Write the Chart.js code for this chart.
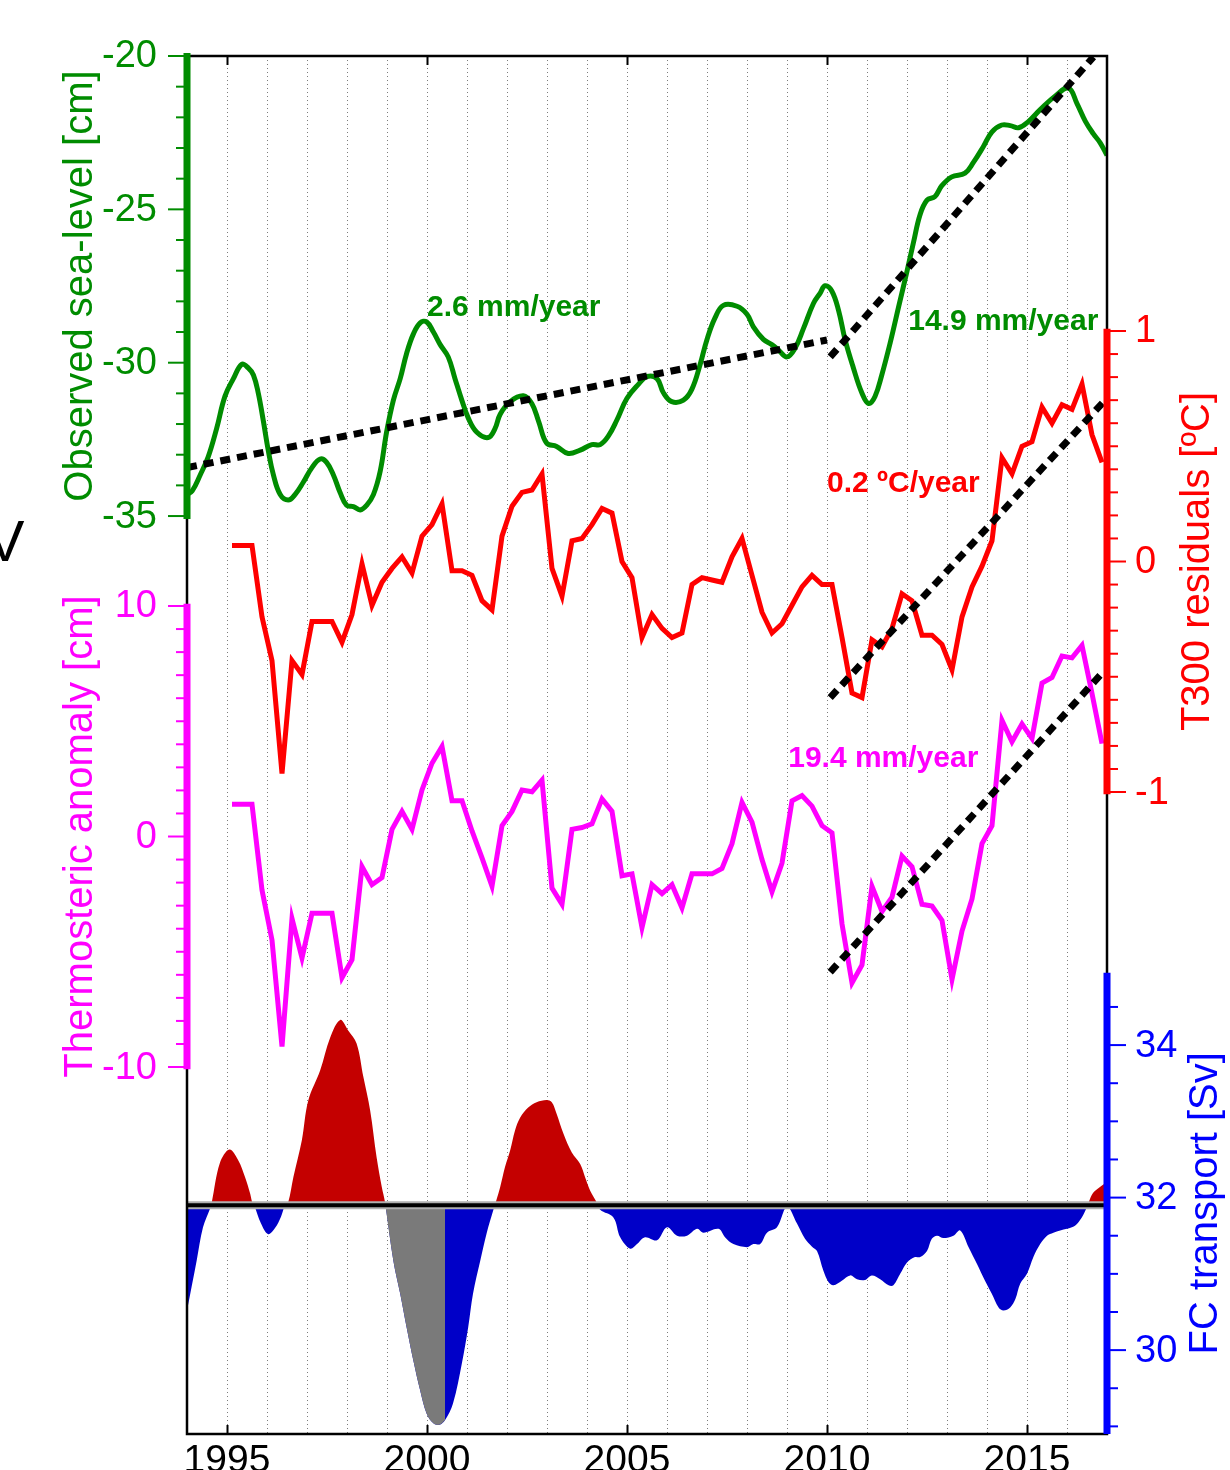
<!DOCTYPE html>
<html>
<head>
<meta charset="utf-8">
<title>Sea level, T300 and FC transport</title>
<script src="https://cdn.jsdelivr.net/npm/chart.js@4.4.1/dist/chart.umd.min.js"></script>
<style>
  html, body { margin: 0; padding: 0; overflow: hidden; background: #fff; }
  canvas { display: block; }
</style>
</head>
<body>
<canvas id="myChart" width="1230" height="1470"></canvas>
<script>
// observed sea level (smoothed, cm)
const seaYears = [1994.00, 1994.13, 1994.33, 1994.53, 1994.74, 1994.95, 1995.16, 1995.37, 1995.53, 1995.66,
  1995.78, 1995.91, 1996.03, 1996.16, 1996.33, 1996.53, 1996.70, 1996.91, 1997.12, 1997.33,
  1997.49, 1997.66, 1997.83, 1997.99, 1998.16, 1998.33, 1998.49, 1998.66, 1998.83, 1998.99,
  1999.16, 1999.33, 1999.49, 1999.66, 1999.83, 1999.99, 2000.16, 2000.33, 2000.53, 2000.70,
  2000.87, 2001.03, 2001.24, 2001.53, 2001.70, 2001.83, 2002.08, 2002.41, 2002.62, 2002.79,
  2002.99, 2003.24, 2003.53, 2003.83, 2004.12, 2004.33, 2004.54, 2004.75, 2005.00, 2005.29,
  2005.50, 2005.75, 2005.91, 2006.12, 2006.41, 2006.62, 2006.83, 2007.00, 2007.20, 2007.41,
  2007.75, 2008.00, 2008.16, 2008.41, 2008.62, 2008.79, 2009.00, 2009.20, 2009.41, 2009.66,
  2009.83, 2009.95, 2010.12, 2010.29, 2010.45, 2010.66, 2010.87, 2011.04, 2011.20, 2011.37,
  2011.58, 2011.79, 2012.00, 2012.16, 2012.33, 2012.50, 2012.70, 2012.87, 2013.12, 2013.45,
  2013.66, 2013.91, 2014.12, 2014.37, 2014.58, 2014.79, 2015.04, 2015.33, 2015.71, 2016.04,
  2016.25, 2016.46, 2016.66, 2016.83, 2017.00];
const seaLevel = [-34.30, -34.18, -33.66, -33.07, -32.15, -31.09, -30.52, -30.05, -30.17, -30.40,
  -30.98, -31.91, -32.85, -33.66, -34.30, -34.48, -34.30, -33.89, -33.43, -33.14,
  -33.25, -33.66, -34.24, -34.65, -34.69, -34.80, -34.65, -34.30, -33.54, -32.26,
  -31.22, -30.52, -29.70, -29.06, -28.70, -28.67, -29.00, -29.41, -29.81, -30.52,
  -31.22, -31.80, -32.26, -32.44, -32.15, -31.68, -31.27, -31.08, -31.33, -31.91,
  -32.62, -32.73, -32.96, -32.85, -32.67, -32.67, -32.38, -31.86, -31.16, -30.70,
  -30.45, -30.52, -30.98, -31.27, -31.22, -30.87, -30.05, -29.24, -28.54, -28.13,
  -28.16, -28.42, -28.83, -29.24, -29.41, -29.59, -29.81, -29.53, -28.89, -28.07,
  -27.73, -27.49, -27.66, -28.30, -29.24, -30.17, -30.98, -31.33, -31.10, -30.40,
  -29.35, -28.18, -27.02, -26.09, -25.16, -24.70, -24.58, -24.23, -23.94, -23.82,
  -23.47, -22.95, -22.48, -22.25, -22.27, -22.34, -22.13, -21.75, -21.30, -21.05,
  -21.55, -22.13, -22.54, -22.83, -23.24];

// quarterly series, mid-quarter time stamps 1995.125 ... 2016.875
const quarterYears = [];
for (let y = 1995; y <= 2016; y++) {
  quarterYears.push(y + 0.125, y + 0.375, y + 0.625, y + 0.875);
}
const t300Residuals = [
  0.07, 0.07, 0.07, -0.24,   -0.43, -0.92, -0.43, -0.49,   -0.26, -0.26, -0.26, -0.35,
  -0.23, -0.01, -0.19, -0.09,   -0.03, 0.02, -0.05, 0.11,   0.16, 0.25, -0.04, -0.04,
  -0.06, -0.17, -0.21, 0.11,   0.24, 0.30, 0.31, 0.38,   -0.03, -0.15, 0.09, 0.10,
  0.16, 0.23, 0.21, 0.00,   -0.07, -0.33, -0.23, -0.29,   -0.33, -0.31, -0.10, -0.07,
  -0.08, -0.09, 0.02, 0.10,   -0.06, -0.22, -0.31, -0.27,   -0.19, -0.11, -0.06, -0.10,
  -0.10, -0.33, -0.57, -0.59,   -0.34, -0.37, -0.29, -0.14,   -0.17, -0.32, -0.32, -0.36,
  -0.47, -0.24, -0.11, -0.02,   0.09, 0.45, 0.38, 0.50,   0.52, 0.67, 0.60, 0.68,
  0.66, 0.77, 0.55, 0.43];
const thermosteric = [
  1.40, 1.40, 1.40, -2.32,   -4.49, -9.11, -3.56, -5.27,   -3.33, -3.33, -3.33, -6.12,
  -5.34, -1.31, -2.09, -1.78,   0.31, 1.09, 0.31, 2.02,   3.18, 3.91, 1.55, 1.55,
  0.24, -0.93, -2.16, 0.47,   1.09, 2.02, 1.94, 2.45,   -2.24, -2.94, 0.31, 0.39,
  0.55, 1.63, 1.09, -1.70,   -1.62, -3.95, -2.09, -2.48,   -2.09, -3.10, -1.62, -1.62,
  -1.62, -1.39, -0.31, 1.48,   0.62, -1.00, -2.40, -1.16,   1.55, 1.78, 1.32, 0.47,
  0.16, -3.79, -6.35, -5.57,   -2.16, -3.25, -2.63, -0.85,   -1.31, -2.94, -3.02, -3.64,
  -6.20, -4.10, -2.71, -0.31,   0.47, 5.04, 4.11, 4.88,   4.26, 6.66, 6.90, 7.83,
  7.75, 8.29, 6.20, 4.03];

// Florida Current transport (Sv), shaded against its mean
const fcMean = 31.9;
const fcYears = [1994.00, 1994.24, 1994.40, 1994.58, 1994.62, 1994.82, 1995.06, 1995.28, 1995.45, 1995.58,
  1995.63, 1995.68, 1995.85, 1996.03, 1996.20, 1996.35, 1996.45, 1996.53, 1996.66, 1996.87,
  1997.03, 1997.33, 1997.58, 1997.83, 1998.03, 1998.24, 1998.41, 1998.58, 1998.74, 1998.87,
  1998.95, 1999.16, 1999.33, 1999.49, 1999.66, 1999.83, 1999.99, 2000.16, 2000.31, 2000.45,
  2000.65, 2000.87, 2001.03, 2001.15, 2001.33, 2001.49, 2001.66, 2001.73, 2001.83, 2001.95,
  2002.08, 2002.20, 2002.33, 2002.53, 2002.74, 2002.99, 2003.12, 2003.24, 2003.41, 2003.62,
  2003.83, 2003.95, 2004.08, 2004.22, 2004.33, 2004.66, 2004.83, 2005.08, 2005.25, 2005.45,
  2005.75, 2006.00, 2006.25, 2006.50, 2006.75, 2006.91, 2007.29, 2007.45, 2007.66, 2008.00,
  2008.16, 2008.33, 2008.50, 2008.75, 2009.00, 2009.25, 2009.45, 2009.62, 2009.75, 2009.91,
  2010.04, 2010.16, 2010.37, 2010.58, 2010.75, 2010.95, 2011.12, 2011.33, 2011.54, 2011.66,
  2011.83, 2012.00, 2012.20, 2012.33, 2012.50, 2012.62, 2012.75, 2012.91, 2013.16, 2013.33,
  2013.54, 2013.75, 2013.95, 2014.12, 2014.29, 2014.41, 2014.58, 2014.71, 2014.83, 2015.00,
  2015.16, 2015.33, 2015.50, 2015.66, 2015.83, 2016.00, 2016.20, 2016.37, 2016.46, 2016.55,
  2016.65, 2016.80, 2017.00];
const fcTransport = [30.52, 31.17, 31.61, 31.86, 31.94, 32.45, 32.63, 32.49, 32.27, 32.05,
  31.94, 31.90, 31.66, 31.52, 31.60, 31.75, 31.90, 31.94, 32.27, 32.75,
  33.27, 33.67, 34.10, 34.33, 34.19, 34.02, 33.58, 33.14, 32.53, 32.14,
  31.94, 31.17, 30.74, 30.30, 29.86, 29.47, 29.17, 29.04, 29.02, 29.08,
  29.30, 29.82, 30.30, 30.74, 31.17, 31.53, 31.84, 31.96, 32.14, 32.40,
  32.62, 32.88, 33.05, 33.18, 33.25, 33.28, 33.25, 33.10, 32.84, 32.59,
  32.44, 32.27, 32.09, 31.96, 31.84, 31.74, 31.48, 31.33, 31.39, 31.48,
  31.44, 31.61, 31.50, 31.50, 31.59, 31.54, 31.59, 31.48, 31.39, 31.35,
  31.39, 31.39, 31.54, 31.61, 31.88, 31.66, 31.46, 31.36, 31.30, 31.04,
  30.89, 30.85, 30.91, 30.98, 30.93, 30.92, 30.98, 30.93, 30.85, 30.85,
  31.00, 31.15, 31.22, 31.22, 31.30, 31.46, 31.50, 31.47, 31.50, 31.57,
  31.35, 31.13, 30.91, 30.74, 30.56, 30.52, 30.56, 30.67, 30.87, 31.00,
  31.22, 31.39, 31.50, 31.54, 31.57, 31.59, 31.63, 31.74, 31.83, 31.95,
  32.06, 32.13, 32.20];
// stretch shown in grey (gap in the cable record)
const fcGapYears = [1998.95, 1999.16, 1999.33, 1999.49, 1999.66, 1999.83, 1999.99, 2000.16, 2000.31, 2000.45];
const fcGapTransport = [31.94, 31.17, 30.74, 30.30, 29.86, 29.47, 29.17, 29.04, 29.02, 29.08];

// linear trends
const seaTrendSlowYears = [1994.0, 2010.0];
const seaTrendSlow = [-33.42, -29.26];
const seaTrendFastYears = [2010.08, 2016.66];
const seaTrendFast = [-29.81, -20.03];
const t300TrendYears = [2010.08, 2016.9];
const t300Trend = [-0.59, 0.69];
const thermoTrendYears = [2010.08, 2016.83];
const thermoTrend = [-5.88, 7.0];

const yearLabels = [1995, 2000, 2005, 2010, 2015];

const FONT = "'Liberation Sans', Arial, Helvetica, sans-serif";
const GREEN = "rgb(0, 140, 0)";
const RED = "rgb(255, 0, 0)";
const MAGENTA = "rgb(255, 0, 255)";
const BLUE = "rgb(0, 0, 255)";

const toPoints = (xs, ys) => xs.map((x, i) => ({ x, y: ys[i] }));

const axisSpecs = [
  { id: "ySea", side: "left", color: GREEN, barFrom: -35.1, barTo: -19.9, first: -35, last: -20, minor: 1, major: 5,
    title: "Observed sea-level [cm]", titleX: 92 },
  { id: "yThermo", side: "left", color: MAGENTA, barFrom: -10.1, barTo: 10.1, first: -10, last: 10, minor: 1, major: 10,
    title: "Thermosteric anomaly [cm]", titleX: 92 },
  { id: "yTemp", side: "right", color: RED, barFrom: -1.01, barTo: 1.01, first: -1, last: 1, minor: 0.1, major: 1,
    title: "T300 residuals [\u00baC]", titleX: 1209 },
  { id: "yFC", side: "right", color: BLUE, barFrom: 28.9, barTo: 34.95, first: 29, last: 34.5, minor: 0.5, major: 2,
    title: "FC transport [Sv]", titleX: 1217, titleFrom: 28.9, titleTo: 34.95 },
];

const notes = [
  { text: "2.6 mm/year", color: GREEN, x: 2000.0, y: -28.48, scale: "ySea" },
  { text: "14.9 mm/year", color: GREEN, x: 2012.03, y: -28.93, scale: "ySea" },
  { text: "0.2 \u00baC/year", color: RED, x: 2010.0, y: 0.30, scale: "yTemp" },
  { text: "19.4 mm/year", color: MAGENTA, x: 2009.03, y: 3.02, scale: "yThermo" },
];

const axisDecor = {
  id: "axisDecor",
  afterDatasetsDraw(chart) {
    const { ctx, chartArea: area, scales } = chart;
    ctx.save();

    ctx.strokeStyle = "#000";
    ctx.lineWidth = 2.5;
    ctx.strokeRect(area.left, area.top, area.right - area.left, area.bottom - area.top);

    ctx.lineWidth = 2;
    yearLabels.forEach((yr) => {
      const px = Math.round(scales.x.getPixelForValue(yr)) + 0.5;
      ctx.beginPath();
      ctx.moveTo(px, area.top);
      ctx.lineTo(px, area.top + 9);
      ctx.moveTo(px, area.bottom);
      ctx.lineTo(px, area.bottom - 9);
      ctx.stroke();
    });

    axisSpecs.forEach((spec) => {
      const s = scales[spec.id];
      const left = spec.side === "left";
      const sx = left ? area.left : area.right;
      const dir = left ? -1 : 1;
      ctx.strokeStyle = spec.color;
      ctx.fillStyle = spec.color;

      ctx.lineWidth = 7;
      ctx.beginPath();
      ctx.moveTo(sx, s.getPixelForValue(spec.barFrom));
      ctx.lineTo(sx, s.getPixelForValue(spec.barTo));
      ctx.stroke();

      ctx.lineWidth = 2;
      ctx.font = `38px ${FONT}`;
      ctx.textAlign = left ? "right" : "left";
      ctx.textBaseline = "middle";
      const n = Math.round((spec.last - spec.first) / spec.minor);
      for (let i = 0; i <= n; i++) {
        const v = Math.round((spec.first + i * spec.minor) * 1000) / 1000;
        const ratio = v / spec.major;
        const isMajor = Math.abs(ratio - Math.round(ratio)) < 1e-6;
        const py = s.getPixelForValue(v);
        const len = isMajor ? 16 : 8;
        ctx.beginPath();
        ctx.moveTo(sx + dir * 3, py);
        ctx.lineTo(sx + dir * (3 + len), py);
        ctx.stroke();
        if (isMajor) {
          ctx.fillText(String(v), left ? sx - 30 : sx + 28, py + 1);
        }
      }

      const c = (s.getPixelForValue(spec.titleFrom ?? spec.first) + s.getPixelForValue(spec.titleTo ?? spec.last)) / 2;
      ctx.save();
      ctx.translate(spec.titleX, c);
      ctx.rotate(-Math.PI / 2);
      ctx.font = `40px ${FONT}`;
      ctx.textAlign = "center";
      ctx.textBaseline = "alphabetic";
      ctx.fillText(spec.title, 0, 0);
      ctx.restore();
    });

    ctx.font = `bold 30px ${FONT}`;
    ctx.textAlign = "left";
    ctx.textBaseline = "alphabetic";
    notes.forEach((n) => {
      ctx.fillStyle = n.color;
      ctx.fillText(n.text, scales.x.getPixelForValue(n.x), scales[n.scale].getPixelForValue(n.y));
    });

    // cropped panel letter at the left edge
    ctx.fillStyle = "#000";
    ctx.font = `58px ${FONT}`;
    ctx.textAlign = "center";
    ctx.fillText("V", 5, 561);

    ctx.restore();
  },
};

const lineStyle = (color, width, tension) => ({
  borderColor: color,
  borderWidth: width,
  pointRadius: 0,
  tension: tension || 0,
  fill: false,
});

const trendStyle = {
  borderColor: "#000",
  borderWidth: 7,
  borderDash: [10, 7],
  borderCapStyle: "butt",
  pointRadius: 0,
  fill: false,
};

const config = {
  type: "line",
  data: {
    datasets: [
      { ...trendStyle, data: toPoints(seaTrendSlowYears, seaTrendSlow), yAxisID: "ySea", order: 1 },
      { ...trendStyle, data: toPoints(seaTrendFastYears, seaTrendFast), yAxisID: "ySea", order: 1 },
      { ...trendStyle, data: toPoints(t300TrendYears, t300Trend), yAxisID: "yTemp", order: 1 },
      { ...trendStyle, data: toPoints(thermoTrendYears, thermoTrend), yAxisID: "yThermo", order: 1 },
      { ...lineStyle(GREEN, 5, 0.4), label: "Observed sea-level", data: toPoints(seaYears, seaLevel), yAxisID: "ySea", order: 3 },
      { ...lineStyle(RED, 5), label: "T300 residuals", data: toPoints(quarterYears, t300Residuals), yAxisID: "yTemp", order: 4 },
      { ...lineStyle(MAGENTA, 5), label: "Thermosteric anomaly", data: toPoints(quarterYears, thermosteric), yAxisID: "yThermo", order: 5 },
      { ...lineStyle("#000", 4), data: toPoints([1994, 2017], [fcMean, fcMean]), yAxisID: "yFC", order: 6 },
      { ...lineStyle("rgb(175, 175, 175)", 8), data: toPoints([1994, 2017], [fcMean, fcMean]), yAxisID: "yFC", order: 6.5 },
      {
        label: "FC transport gap",
        data: toPoints(fcGapYears, fcGapTransport),
        yAxisID: "yFC",
        borderWidth: 0,
        pointRadius: 0,
        tension: 0.35,
        fill: { target: { value: fcMean }, above: "rgb(122, 122, 122)", below: "rgb(122, 122, 122)" },
        order: 7,
      },
      {
        label: "FC transport",
        data: toPoints(fcYears, fcTransport),
        yAxisID: "yFC",
        borderWidth: 0,
        pointRadius: 0,
        tension: 0.35,
        fill: { target: { value: fcMean }, above: "rgb(196, 0, 0)", below: "rgb(0, 0, 200)" },
        order: 8,
      },
    ],
  },
  options: {
    responsive: false,
    animation: false,
    events: [],
    layout: { padding: { left: 187, right: 123, top: 56, bottom: 0 } },
    plugins: { legend: { display: false }, tooltip: { enabled: false } },
    scales: {
      x: {
        type: "linear",
        min: 1994,
        max: 2017,
        afterFit: (scale) => { scale.height = 36; },
        grid: { color: "rgb(125, 125, 125)", lineWidth: 1, drawTicks: false },
        border: { display: false, dash: [1, 3] },
        ticks: {
          stepSize: 1,
          autoSkip: false,
          maxRotation: 0,
          padding: 4,
          color: "#000",
          font: { family: FONT, size: 39 },
          callback: (v) => (yearLabels.includes(v) ? String(v) : ""),
        },
      },
      ySea: { type: "linear", display: false, min: -64.93, max: -20 },
      yTemp: { type: "linear", display: false, min: -3.785, max: 2.193 },
      yThermo: { type: "linear", display: false, min: -25.92, max: 33.86 },
      yFC: { type: "linear", display: false, min: 28.9, max: 46.97 },
    },
  },
  plugins: [axisDecor],
};

new Chart(document.getElementById("myChart"), config);
</script>
</body>
</html>
